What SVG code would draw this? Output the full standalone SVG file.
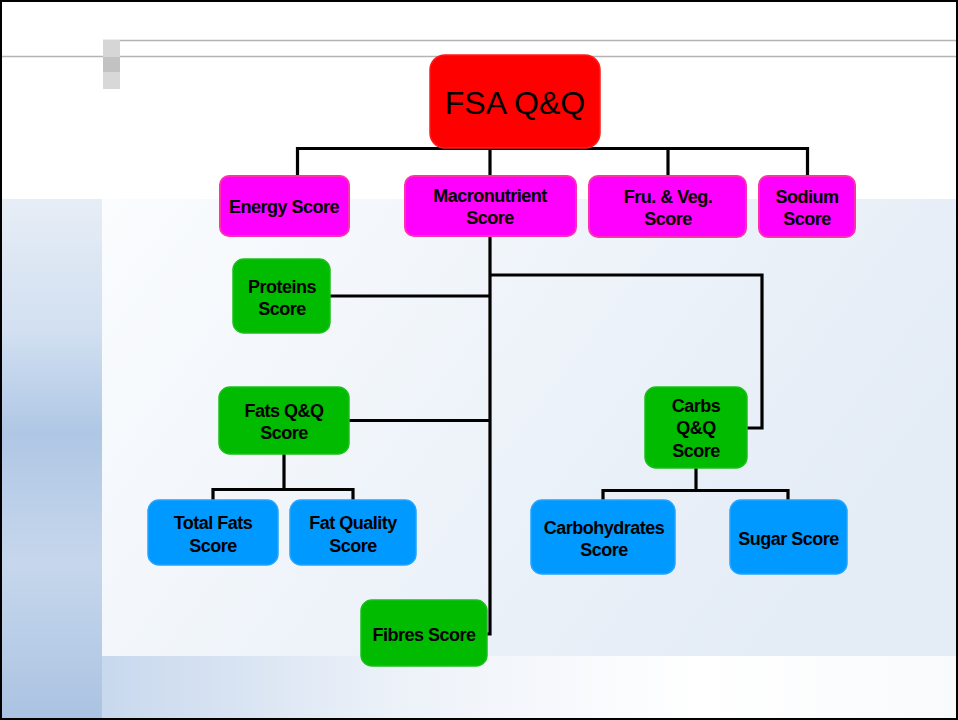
<svg xmlns="http://www.w3.org/2000/svg" width="958" height="720" viewBox="0 0 958 720">
<defs>
<linearGradient id="bgMain" x1="0" y1="0" x2="1" y2="0">
<stop offset="0" stop-color="#c9d9ee"/>
<stop offset="1" stop-color="#e2eaf5"/>
</linearGradient>
<linearGradient id="leftStrip" x1="0" y1="0" x2="0" y2="1">
<stop offset="0" stop-color="#e6edf6"/>
<stop offset="0.25" stop-color="#d2e0f1"/>
<stop offset="0.45" stop-color="#afc7e5"/>
<stop offset="0.7" stop-color="#c6d7ec"/>
<stop offset="1" stop-color="#aac3e2"/>
</linearGradient>
<linearGradient id="panel" x1="0" y1="0" x2="1" y2="0.4">
<stop offset="0" stop-color="#fafcfe"/>
<stop offset="0.5" stop-color="#eff4fa"/>
<stop offset="1" stop-color="#e4ecf6"/>
</linearGradient>
<linearGradient id="bottom" x1="0" y1="0" x2="1" y2="0">
<stop offset="0" stop-color="#c8d8ed"/>
<stop offset="0.35" stop-color="#edf2f9"/>
<stop offset="0.7" stop-color="#ffffff"/>
<stop offset="1" stop-color="#f8fafc"/>
</linearGradient>
</defs>
<style>
.mag rect { fill: #ff00ff; stroke: #ff2fb0; stroke-width: 2; }
.grn rect { fill: #00bb00; stroke: #18c018; stroke-width: 1.5; }
.blu rect { fill: #0099ff; stroke: #22a4ff; stroke-width: 1.5; }
.red rect { fill: #ff0000; stroke: #ff1a1a; stroke-width: 1.5; }
.node text { font-family: "Liberation Sans", Arial, sans-serif; font-size: 18px; font-weight: bold; letter-spacing: -0.5px; fill: #000; text-anchor: middle; }
.red text { font-size: 32px; font-weight: normal; letter-spacing: 0; }
#connectors path { fill: none; stroke: #000; stroke-width: 3.2; stroke-linejoin: miter; }
</style>
<!-- background -->
<rect x="0" y="0" width="958" height="720" fill="#ffffff"/>
<rect x="0" y="199" width="958" height="521" fill="url(#bgMain)"/>
<rect x="0" y="199" width="102" height="521" fill="url(#leftStrip)"/>
<rect x="102" y="199" width="856" height="457" fill="url(#panel)"/>
<rect x="102" y="656" width="856" height="64" fill="url(#bottom)"/>
<!-- header lines -->
<line x1="103" y1="40.5" x2="958" y2="40.5" stroke="#b4b4b4" stroke-width="1.5"/>
<line x1="0" y1="56.5" x2="958" y2="56.5" stroke="#b4b4b4" stroke-width="1.5"/>
<rect x="103" y="40" width="17" height="17" fill="#d6d6d6"/>
<rect x="103" y="57" width="17" height="15" fill="#c2c2c2"/>
<rect x="103" y="72" width="17" height="17" fill="#d8d8d8"/>
<!-- frame -->
<rect x="1" y="1" width="956" height="718" fill="none" stroke="#000" stroke-width="2"/>

<g id="connectors">
<path d="M297.5 175 V148.5 H807.5 V175"/>
<path d="M490 148.5 V175"/>
<path d="M668 148.5 V175"/>
<path d="M490 236 V634 H487" stroke-width="4"/>
<path d="M330 296 H490"/>
<path d="M349 420.5 H490"/>
<path d="M490 275 H762 V428 H747"/>
<path d="M284 454 V489" stroke-width="4"/>
<path d="M213 500 V489.5 H353 V500"/>
<path d="M696 468 V490" stroke-width="4"/>
<path d="M603 500 V490.5 H788 V500"/>
</g>

<g id="node-fsa" class="node red">
<rect x="430" y="55" width="170" height="93" rx="15"/>
<text x="515" y="114">FSA Q&amp;Q</text>
</g>
<g id="node-energy" class="node mag">
<rect x="220" y="176" width="129" height="60" rx="9"/>
<text x="284" y="213">Energy Score</text>
</g>
<g id="node-macro" class="node mag">
<rect x="405" y="176" width="171" height="60" rx="9"/>
<text x="490" y="202">Macronutrient</text>
<text x="490" y="224">Score</text>
</g>
<g id="node-fruveg" class="node mag">
<rect x="589" y="176" width="157" height="61" rx="9"/>
<text x="668" y="203">Fru. &amp; Veg.</text>
<text x="668" y="225">Score</text>
</g>
<g id="node-sodium" class="node mag">
<rect x="759" y="176" width="96" height="61" rx="9"/>
<text x="807" y="203">Sodium</text>
<text x="807" y="225">Score</text>
</g>
<g id="node-proteins" class="node grn">
<rect x="233" y="259" width="97" height="74" rx="11"/>
<text x="282" y="293">Proteins</text>
<text x="282" y="315">Score</text>
</g>
<g id="node-fats" class="node grn">
<rect x="219" y="387" width="130" height="67" rx="11"/>
<text x="284" y="417">Fats Q&amp;Q</text>
<text x="284" y="439">Score</text>
</g>
<g id="node-carbs" class="node grn">
<rect x="645" y="387" width="102" height="81" rx="11"/>
<text x="696" y="412">Carbs</text>
<text x="696" y="434">Q&amp;Q</text>
<text x="696" y="457">Score</text>
</g>
<g id="node-totalfats" class="node blu">
<rect x="148" y="500" width="130" height="65" rx="11"/>
<text x="213" y="529">Total Fats</text>
<text x="213" y="552">Score</text>
</g>
<g id="node-fatquality" class="node blu">
<rect x="290" y="500" width="126" height="65" rx="11"/>
<text x="353" y="529">Fat Quality</text>
<text x="353" y="552">Score</text>
</g>
<g id="node-carbohydrates" class="node blu">
<rect x="531" y="500" width="144" height="74" rx="11"/>
<text x="604" y="534">Carbohydrates</text>
<text x="604" y="556">Score</text>
</g>
<g id="node-sugar" class="node blu">
<rect x="730" y="500" width="117" height="74" rx="11"/>
<text x="788.5" y="545">Sugar Score</text>
</g>
<g id="node-fibres" class="node grn">
<rect x="361" y="600" width="126" height="66" rx="11"/>
<text x="424" y="641">Fibres Score</text>
</g>
</svg>
